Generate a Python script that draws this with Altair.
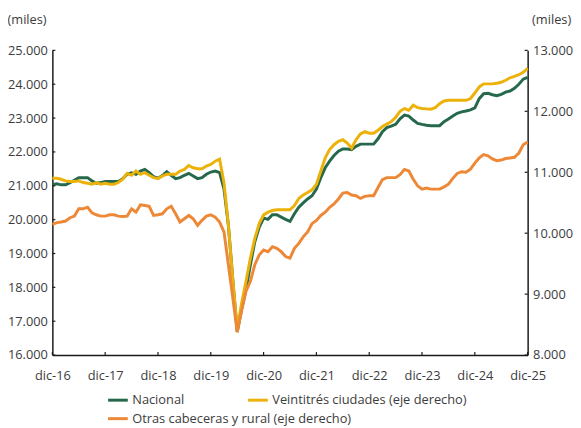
import altair as alt
import pandas as pd

# Monthly index: 0 = dic-16 ... 108 = dic-25
meses = list(range(109))

nacional = [21030, 21057, 21028, 21028, 21095, 21163, 21240, 21240, 21240, 21144,
            21076, 21095, 21125, 21125, 21125, 21125, 21212, 21340, 21386, 21340,
            21436, 21485, 21386, 21270, 21225, 21300, 21415, 21310, 21212, 21240,
            21310, 21368, 21290, 21212, 21240, 21340, 21406, 21436, 21386, 20900,
            19830, 18230, 16685, 17355, 17938, 18667, 19346, 19770, 20045, 20008,
            20144, 20144, 20075, 20008, 19949, 20173, 20367, 20494, 20611, 20707,
            20902, 21240, 21532, 21727, 21893, 22019, 22086, 22086, 22068, 22164,
            22231, 22231, 22231, 22231, 22389, 22600, 22720, 22760, 22814, 22980,
            23088, 23060, 22943, 22844, 22814, 22790, 22776, 22776, 22776, 22893,
            22972, 23060, 23140, 23185, 23210, 23240, 23300, 23574, 23720, 23730,
            23689, 23660, 23700, 23767, 23800, 23880, 24000, 24150, 24205]

veintitres = [10901, 10901, 10885, 10858, 10847, 10847, 10858, 10831, 10820, 10804,
              10831, 10804, 10820, 10804, 10804, 10831, 10885, 10982, 10950, 11020,
              10966, 10993, 10950, 10912, 10896, 10939, 10966, 10966, 10966, 11020,
              11047, 11112, 11074, 11058, 11058, 11101, 11128, 11182, 11215, 10830,
              10130, 9235, 8430, 8850, 9211, 9590, 9914, 10157, 10300, 10345,
              10372, 10383, 10383, 10383, 10383, 10453, 10571, 10626, 10669, 10712,
              10804, 11020, 11235, 11371, 11452, 11506, 11533, 11479, 11397, 11533,
              11630, 11667, 11640, 11640, 11690, 11750, 11790, 11830, 11900, 12000,
              12045, 12019, 12100, 12060, 12045, 12040, 12035, 12060, 12126, 12170,
              12181, 12181, 12181, 12181, 12181, 12210, 12300, 12400, 12450, 12450,
              12450, 12460, 12477, 12510, 12550, 12574, 12600, 12640, 12704]

otras = [10145, 10173, 10183, 10199, 10254, 10280, 10400, 10400, 10426, 10334,
         10302, 10280, 10280, 10302, 10302, 10280, 10275, 10280, 10400, 10345,
         10464, 10453, 10442, 10291, 10302, 10318, 10400, 10442, 10318, 10183,
         10237, 10291, 10237, 10129, 10210, 10280, 10302, 10264, 10183, 10021,
         9482, 8942, 8376, 8726, 9050, 9211, 9482, 9643, 9724, 9697,
         9778, 9752, 9697, 9616, 9590, 9752, 9833, 9940, 10021, 10157,
         10210, 10291, 10345, 10426, 10480, 10561, 10659, 10669, 10626, 10615,
         10571, 10604, 10615, 10615, 10750, 10880, 10912, 10912, 10912, 10960,
         11047, 11020, 10885, 10777, 10723, 10740, 10723, 10723, 10723, 10760,
         10804, 10900, 10980, 11009, 11000, 11050, 11150, 11235, 11290, 11270,
         11220, 11190, 11200, 11225, 11235, 11245, 11316, 11452, 11495]

ticks_x = [0, 12, 24, 36, 48, 60, 72, 84, 96, 108]
etiquetas_x = ["dic-16", "dic-17", "dic-18", "dic-19", "dic-20",
               "dic-21", "dic-22", "dic-23", "dic-24", "dic-25"]
ticks_izq = [16000, 17000, 18000, 19000, 20000, 21000, 22000, 23000, 24000, 25000]
ticks_der = [8000, 9000, 10000, 11000, 12000, 13000]

series = ["Nacional", "Veintitrés ciudades (eje derecho)", "Otras cabeceras y rural (eje derecho)"]
colores = ["#26684C", "#ECB20A", "#ED8837"]

W, H = 482, 309
FONT = "Open Sans"
TXT = "#3c3c3c"

df_nac = pd.DataFrame({"mes": meses, "valor": nacional, "serie": series[0]})
df_vei = pd.DataFrame({"mes": meses, "valor": veintitres, "serie": series[1]})
df_otr = pd.DataFrame({"mes": meses, "valor": otras, "serie": series[2]})
df_tx = pd.DataFrame({"mes": ticks_x})
df_ti = pd.DataFrame({"valor": ticks_izq})
df_td = pd.DataFrame({"valor": ticks_der})

lab_arr = "[" + ",".join("'%s'" % s for s in etiquetas_x) + "]"
x_enc = alt.X(
    "mes:Q",
    scale=alt.Scale(domain=[0, 108], nice=False, zero=False),
    axis=alt.Axis(values=ticks_x, labelExpr=lab_arr + "[round(datum.value/12)]",
                  labelOverlap=False, labelFlush=False, tickSize=0, grid=False,
                  title=None, labelPadding=15,
                  domainColor="#1a1a1a", domainWidth=1.5,
                  labelFont=FONT, labelFontSize=13, labelColor=TXT),
)

fmt = "replace(format(datum.value, ','), ',', '.')"
y_izq = alt.Y(
    "valor:Q",
    scale=alt.Scale(domain=[16000, 25000], nice=False, zero=False),
    axis=alt.Axis(values=ticks_izq, labelExpr=fmt, tickSize=0, grid=False, labelPadding=5,
                  labelOverlap=False, labelFlush=False,
                  domainColor="#1a1a1a", domainWidth=1.5,
                  labelFont=FONT, labelFontSize=13, labelColor=TXT,
                  title="(miles)", titleAngle=0, titleAlign="left", titleBaseline="middle",
                  titleX=-46, titleY=-31, titleFont=FONT, titleFontSize=13,
                  titleFontWeight="normal", titleColor=TXT),
)
y_der = alt.Y(
    "valor:Q",
    scale=alt.Scale(domain=[8000, 13000], nice=False, zero=False),
    axis=alt.Axis(orient="right", values=ticks_der, labelExpr=fmt, tickSize=0, grid=False,
                  labelPadding=5, labelOverlap=False, labelFlush=False,
                  domainColor="#1a1a1a", domainWidth=1.5,
                  labelFont=FONT, labelFontSize=13, labelColor=TXT,
                  title="(miles)", titleAngle=0, titleAlign="left", titleBaseline="middle",
                  titleX=4, titleY=-31, titleFont=FONT, titleFontSize=13,
                  titleFontWeight="normal", titleColor=TXT),
)

leg_common = dict(title=None, orient="none", direction="horizontal",
                  symbolType="stroke", symbolSize=400, symbolStrokeWidth=3,
                  labelFont=FONT, labelFontSize=13, labelColor=TXT,
                  labelOffset=3, labelLimit=400)

color_enc = alt.Color(
    "serie:N",
    scale=alt.Scale(domain=series[:2], range=colores[:2]),
    sort=series[:2],
    legend=alt.Legend(legendX=55, legendY=343, columnPadding=58, **leg_common),
)
stroke_enc = alt.Stroke(
    "serie:N",
    scale=alt.Scale(domain=series[2:], range=colores[2:]),
    legend=alt.Legend(legendX=55, legendY=362, **leg_common),
)

linea_nac = alt.Chart(df_nac).mark_line(strokeWidth=3).encode(
    x=x_enc, y=y_izq, color=color_enc)
tick_x = alt.Chart(df_tx).mark_rule(color="#1a1a1a", strokeWidth=1.2).encode(
    x=x_enc, y=alt.value(H - 3), y2=alt.value(H))
tick_izq = alt.Chart(df_ti).mark_rule(color="#1a1a1a", strokeWidth=1.2).encode(
    y=y_izq, x=alt.value(0), x2=alt.value(3))
grupo_izq = alt.layer(linea_nac, tick_x, tick_izq)

linea_vei = alt.Chart(df_vei).mark_line(strokeWidth=3).encode(
    x=x_enc, y=y_der, color=color_enc)
linea_otr = alt.Chart(df_otr).mark_line(strokeWidth=3).encode(
    x=x_enc, y=y_der, stroke=stroke_enc)
tick_der = alt.Chart(df_td).mark_rule(color="#1a1a1a", strokeWidth=1.2).encode(
    y=y_der, x=alt.value(W - 3), x2=alt.value(W))
grupo_der = alt.layer(linea_vei, linea_otr, tick_der)

chart = alt.layer(grupo_izq, grupo_der).resolve_scale(y="independent").properties(
    width=W, height=H,
    autosize=alt.AutoSizeParams(type="none"),
    padding={"left": 45, "top": 40, "right": 46, "bottom": 71},
    background="white",
).configure_view(stroke=None)

chart.save("out.html", embed_options={"renderer": "svg", "actions": False})
